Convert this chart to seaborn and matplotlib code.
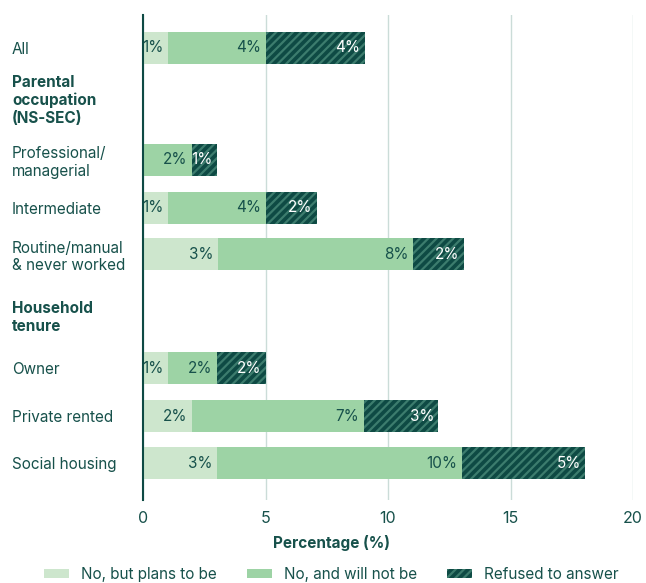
import matplotlib
matplotlib.use('Agg')
import matplotlib.pyplot as plt
from matplotlib.patches import Patch
import seaborn as sns
import pandas as pd

## 데이터
groups = ['All', 'Professional/\nmanagerial', 'Intermediate',
          'Routine/manual\n& never worked', 'Owner', 'Private rented', 'Social housing']
plans = [1, 0, 1, 3.05, 1, 2, 3]
will_not = [4, 2, 4, 7.95, 2, 7, 10]
refused = [4.05, 1, 2.1, 2.1, 2, 3.05, 5.05]
plans_lbl = ['1%', '', '1%', '3%', '1%', '2%', '3%']
will_not_lbl = ['4%', '2%', '4%', '8%', '2%', '7%', '10%']
refused_lbl = ['4%', '1%', '2%', '2%', '2%', '3%', '5%']

headings = ['Parental\noccupation\n(NS-SEC)', 'Household\ntenure']

# 행 위치 (소제목 때문에 간격이 일정하지 않음)
row_pos = [0, 2.35, 3.35, 4.33, 6.72, 7.72, 8.71]
head_pos = [1.05, 5.6]

c_light = '#cde6cd'
c_mid = '#9dd3a5'
c_dark = '#0e4a44'
c_hatch = '#3c7c6d'
c_text = '#17514b'
c_grid = '#cbdcd8'

plt.rcParams['font.family'] = ['Inter', 'DejaVu Sans']
plt.rcParams['hatch.linewidth'] = 1.6

df = pd.DataFrame({'group': groups, 'pos': row_pos,
                   'plans': plans, 'will_not': will_not, 'refused': refused})
df['c1'] = df['plans']
df['c2'] = df['plans'] + df['will_not']
df['c3'] = df['c2'] + df['refused']

fig = plt.figure(figsize=(6.46, 5.83), dpi=100)
ax = fig.add_axes([0.2214, 0.1424, 0.7585, 0.832])

bw = 0.67 / 0.98
sns.barplot(data=df, x='c3', y='pos', orient='y', native_scale=True, width=bw,
            color=c_dark, edgecolor=c_hatch, hatch='////', linewidth=0,
            saturation=1, ax=ax, zorder=3)
sns.barplot(data=df, x='c2', y='pos', orient='y', native_scale=True, width=bw,
            color=c_mid, linewidth=0, saturation=1, ax=ax, zorder=3)
sns.barplot(data=df, x='c1', y='pos', orient='y', native_scale=True, width=bw,
            color=c_light, linewidth=0, saturation=1, ax=ax, zorder=3)

# 막대 안쪽 라벨 (오른쪽 정렬)
for i, r in df.iterrows():
    for xe, lbl, col in [(r['c1'], plans_lbl[i], c_text),
                         (r['c2'], will_not_lbl[i], c_text),
                         (r['c3'], refused_lbl[i], 'white')]:
        if lbl:
            ax.annotate(lbl, (xe, r['pos']), xytext=(-3, 0), textcoords='offset points',
                        ha='right', va='center', fontsize=11, color=col, zorder=5)

ax.set_xlim(0, 20)
ax.set_ylim(9.48, -0.69)
ax.set_xticks([0, 5, 10, 15, 20])
ax.grid(axis='x', color=c_grid, linewidth=1, zorder=0)
ax.grid(axis='y', visible=False)

ticks = row_pos + head_pos
labels = groups + headings
ax.set_yticks(ticks)
ax.set_yticklabels(labels)
for t in ax.get_yticklabels():
    t.set_ha('left')
    if t.get_text() in headings:
        t.set_fontweight('bold')
ax.tick_params(axis='y', length=0, pad=94.3, labelsize=11, labelcolor=c_text)
ax.tick_params(axis='x', length=0, pad=8, labelsize=11.5, labelcolor=c_text)
ax.set_xlabel('')
ax.set_ylabel('')

for s in ['top', 'right', 'bottom']:
    ax.spines[s].set_visible(False)
ax.spines['left'].set_color(c_dark)
ax.spines['left'].set_linewidth(1.5)
ax.spines['left'].set_zorder(6)

fig.text(0.513, 0.068, 'Percentage (%)', ha='center', va='center',
         fontsize=11, fontweight='bold', color=c_text)

handles = [Patch(facecolor=c_light, linewidth=0, label='No, but plans to be'),
           Patch(facecolor=c_mid, linewidth=0, label='No, and will not be'),
           Patch(facecolor=c_dark, edgecolor=c_hatch, hatch='////', linewidth=0,
                 label='Refused to answer')]
leg = fig.legend(handles=handles, loc='center', bbox_to_anchor=(0.513, 0.015), ncol=3,
                 frameon=False, fontsize=11, handlelength=1.6, handleheight=0.6,
                 columnspacing=2.0, handletextpad=0.8)
for t in leg.get_texts():
    t.set_color(c_text)

fig.savefig('out.png', dpi=100)
